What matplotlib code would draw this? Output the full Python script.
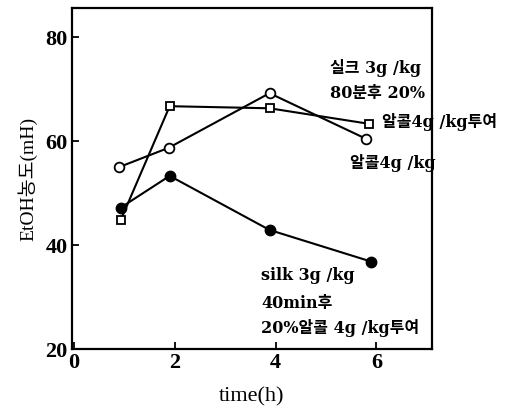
import matplotlib
matplotlib.use('Agg')
import matplotlib.pyplot as plt

# 폰트: 라틴은 세리프, 한글은 CJK로 대체
plt.rcParams['font.family'] = ['Liberation Serif', 'Noto Sans CJK KR']
plt.rcParams['font.weight'] = 'bold'
plt.rcParams['axes.unicode_minus'] = False

# 데이터
time_silk = [0.93, 1.9, 3.88, 5.9]
etoh_silk = [47.2, 53.3, 42.9, 36.8]

time_alcohol = [0.9, 1.88, 3.88, 5.8]
etoh_alcohol = [55.0, 58.7, 69.2, 60.4]

time_silk80 = [0.93, 1.9, 3.88, 5.86]
etoh_silk80 = [44.8, 66.7, 66.3, 63.3]

x_ticks = [0, 2, 4, 6]
y_ticks = [20, 40, 60, 80]

fig = plt.figure(figsize=(5.13, 4.17), dpi=100)
ax = fig.add_axes([0.140, 0.163, 0.702, 0.818])

ax.plot(time_silk80, etoh_silk80, 's-', color='black', linewidth=1.5,
        markersize=5.5, markerfacecolor='white', markeredgewidth=1.3, zorder=3)
ax.plot(time_alcohol, etoh_alcohol, 'o-', color='black', linewidth=1.5,
        markersize=7, markerfacecolor='white', markeredgewidth=1.3, zorder=3)
ax.plot(time_silk, etoh_silk, 'o-', color='black', linewidth=1.5,
        markersize=7.5, markerfacecolor='black', zorder=4)

ax.set_xlim(-0.04, 7.1)
ax.set_ylim(20, 85.6)
ax.set_xticks(x_ticks)
ax.set_yticks(y_ticks)
ax.tick_params(direction='in', length=5, width=1.3, labelsize=16, pad=3)
for s in ax.spines.values():
    s.set_linewidth(1.6)

ax.set_xlabel('time(h)', fontsize=16, labelpad=10)
ax.set_ylabel('EtOH농도(mH)', fontsize=14, fontweight='normal', labelpad=6)

# 범례 대신 직접 주석 (조금 넓은 세리프)
fs = 11.5
fam = ['DejaVu Serif', 'Noto Sans CJK KR']
ax.text(5.07, 74.0, '실크 3g /kg', fontsize=fs, family=fam, va='center')
ax.text(5.07, 69.2, '80분후 20%', fontsize=fs, family=fam, va='center')
ax.text(6.1, 63.7, '알콜4g /kg투여', fontsize=fs, family=fam, va='center')
ax.text(5.47, 55.8, '알콜4g /kg', fontsize=fs, family=fam, va='center')
ax.text(3.72, 34.2, 'silk 3g /kg', fontsize=fs, family=fam, va='center')
ax.text(3.72, 28.8, '40min후', fontsize=fs, family=fam, va='center')
ax.text(3.72, 24.0, '20%알콜 4g /kg투여', fontsize=fs, family=fam, va='center')

plt.savefig('out.png', dpi=100)
plt.close()
